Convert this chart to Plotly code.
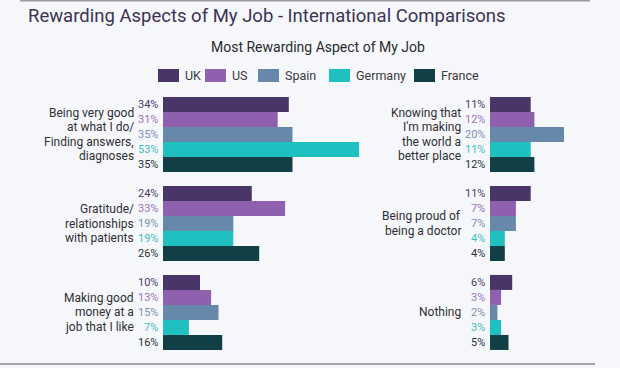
import plotly.graph_objects as go

# ---------------- data ----------------
left_labels = [
    ["Being very good", "at what I do/", "Finding answers,", "diagnoses"],
    ["Gratitude/", "relationships", "with patients"],
    ["Making good", "money at a", "job that I like"],
]
right_labels = [
    ["Knowing that", "I'm making", "the world a", "better place"],
    ["Being proud of", "being a doctor"],
    ["Nothing"],
]
series_names = ["UK", "US", "Spain", "Germany", "France"]
# values: first 3 = left panel aspects, last 3 = right panel aspects
uk = [34, 24, 10, 11, 11, 6]
us = [31, 33, 13, 12, 7, 3]
spain = [35, 19, 15, 20, 7, 2]
germany = [53, 19, 7, 11, 4, 3]
france = [35, 26, 16, 12, 4, 5]
series_values = [uk, us, spain, germany, france]

# ---------------- style ----------------
bar_colors = ["#4a3569", "#8e60ae", "#6688aa", "#20bfc0", "#123f46"]
pct_colors = ["#4b3e6c", "#9a74ba", "#7b93b2", "#3cc0c5", "#1f323c"]
FONT = "Roboto, sans-serif"
STRIDE = 5.93  # group spacing in bar units

W, H = 620, 368
T, B = 90, 11
PH = H - T - B


def py(y_px):
    """pixel row -> paper y"""
    return (H - B - y_px) / PH


fig = go.Figure()

for si, (name, vals) in enumerate(zip(series_names, series_values)):
    for panel, axis in ((0, "x"), (1, "x2")):
        v = vals[panel * 3:(panel + 1) * 3]
        ys = [g * STRIDE + (si - 2) for g in range(3)]
        fig.add_trace(go.Bar(
            x=v, y=ys, orientation="h", width=1.0,
            marker=dict(color=bar_colors[si], line=dict(width=0)),
            name=name, showlegend=False,
            xaxis=axis, yaxis="y", hoverinfo="skip",
        ))
        for val, yv in zip(v, ys):
            fig.add_annotation(
                x=0, y=yv, xref=axis, yref="y", text=f"{val}%",
                showarrow=False, xanchor="right", yanchor="middle", xshift=-3,
                font=dict(family=FONT, size=11, color=pct_colors[si]),
            )

# category labels
for panel, (labels, xref) in enumerate(((left_labels, "x"), (right_labels, "x2"))):
    for g, lines in enumerate(labels):
        n = len(lines)
        for j, line in enumerate(lines):
            fig.add_annotation(
                x=0, y=g * STRIDE, xref=xref, yref="y",
                text=line, showarrow=False, xanchor="right", yanchor="middle",
                xshift=-27, yshift=((n - 1) / 2 - j) * 14.4,
                font=dict(family=FONT, size=12, color="#2f2f35"),
            )

# subtitle
fig.add_annotation(
    x=318 / W, y=py(47), xref="paper", yref="paper",
    text="Most Rewarding Aspect of My Job", showarrow=False,
    xanchor="center", yanchor="middle",
    font=dict(family=FONT, size=14, color="#2a2a30"),
)

# legend (swatch + label)
legend_x = [158, 205, 258, 329, 414]
for name, color, lx in zip(series_names, bar_colors, legend_x):
    fig.add_shape(type="rect", xref="paper", yref="paper",
                  x0=lx / W, x1=(lx + 21) / W, y0=py(82), y1=py(69),
                  fillcolor=color, line=dict(width=0))
    fig.add_annotation(x=(lx + 25) / W, y=py(75.5), xref="paper", yref="paper",
                       text=name, showarrow=False, xanchor="left", yanchor="middle",
                       font=dict(family=FONT, size=12.5, color="#3a3a40"))

# frame edges of the slide
fig.add_shape(type="line", xref="paper", yref="paper", x0=20 / W, x1=590 / W,
              y0=py(0.5), y1=py(0.5), line=dict(color="#9c9ca4", width=2))
fig.add_shape(type="line", xref="paper", yref="paper", x0=0, x1=595 / W,
              y0=py(364), y1=py(364), line=dict(color="#a4a4ac", width=2))

left_end = 0.59
fig.update_layout(
    width=W, height=H,
    margin=dict(l=0, r=0, t=T, b=B),
    paper_bgcolor="#f6f7fa", plot_bgcolor="rgba(0,0,0,0)",
    barmode="overlay", hovermode=False,
    title=dict(
        text="Rewarding Aspects of My Job - International Comparisons",
        x=28 / W, xanchor="left", y=1 - 16 / H, yanchor="middle",
        font=dict(family=FONT, size=18.5, color="#3b3354"),
    ),
    xaxis=dict(domain=[163 / W, left_end], range=[0, (left_end * W - 163) / 3.7],
               visible=False, anchor="y"),
    xaxis2=dict(domain=[490 / W, 1.0], range=[0, (W - 490) / 3.7],
                visible=False, anchor="y"),
    yaxis=dict(range=[2 * STRIDE + 2.97, -2.97], visible=False),
    showlegend=False,
)

fig.write_html("out.html", config={"displayModeBar": False},
               post_script="document.body.style.margin='0';")
